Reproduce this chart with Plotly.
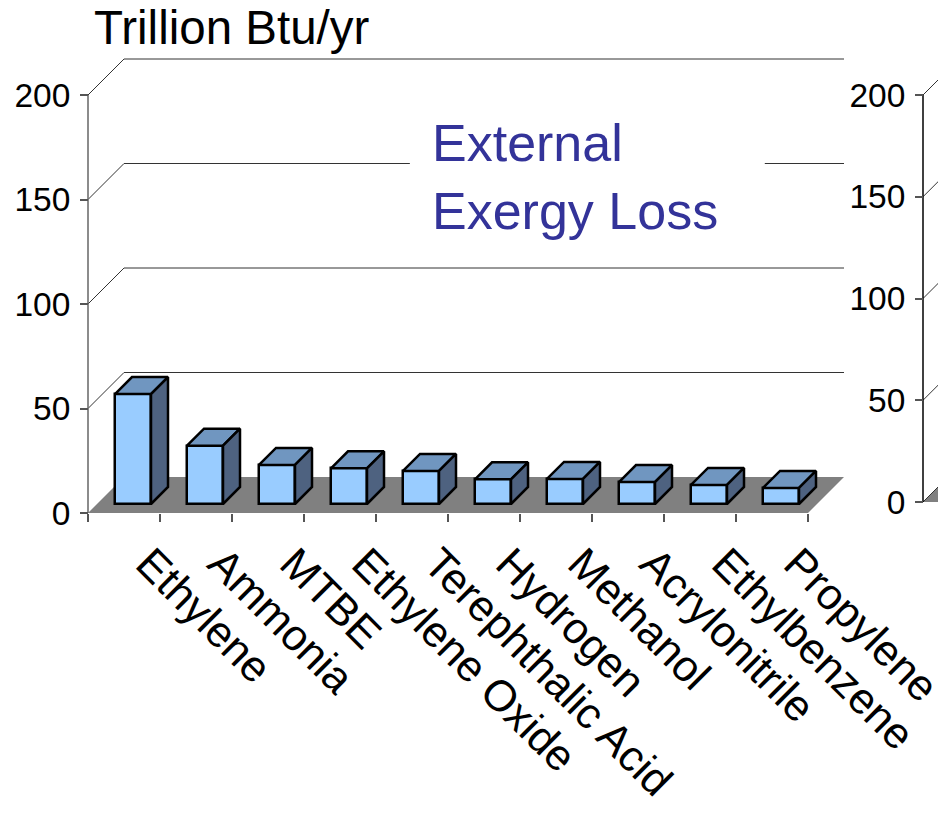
import plotly.graph_objects as go

# ---- data -------------------------------------------------------------
categories = ["Ethylene", "Ammonia", "MTBE", "Ethylene Oxide", "Terephthalic Acid",
              "Hydrogen", "Methanol", "Acrylonitrile", "Ethylbenzene", "Propylene"]
values = [52.6, 27.9, 18.7, 17.1, 15.8, 11.8, 12.0, 10.5, 9.1, 7.7]
y_ticks = [0, 50, 100, 150, 200]
title_text = "Trillion Btu/yr"
panel_text = "External<br>Exergy Loss"

# ---- geometry of the pseudo-3D frame -----------------------------------
W, H = 938, 813
PX_CAT = 72.0          # pixels per category
PX_VAL = 2.09          # pixels per value unit (main panel)
PX_VAL2 = 2.035        # pixels per value unit (neighbouring panel)
LEFT, RIGHT, BOTTOM, TOP = 88, 844, 513, 53

WALL_DX = 36 / PX_CAT          # floor / wall depth
WALL_DY = 36 / PX_VAL
BAR_W = 36 / PX_CAT
BAR_OX = 9 / PX_CAT            # bar set back from the front edge
BAR_OY = 9 / PX_VAL
BAR_DX = 17 / PX_CAT           # bar depth
BAR_DY = 17 / PX_VAL

FRONT = "#99CCFF"
TOPC = "#7096C0"
SIDE = "#4E6280"
FLOOR = "#808080"
FONT = "Arial, Liberation Sans, sans-serif"

n = len(categories)
x_lo = -0.5
x_hi = n - 0.5 + WALL_DX
pad = 4 / PX_CAT

fig = go.Figure()
shapes = []

# back-wall gridlines (diagonal on the side wall, horizontal on the back wall)
for v in y_ticks[1:]:
    shapes.append(dict(type="path", xref="x", yref="y", layer="below",
                       path=f"M{x_lo},{v} L{x_lo + WALL_DX},{v + WALL_DY} L{x_hi},{v + WALL_DY}",
                       line=dict(color="#333333", width=1)))
# floor
shapes.append(dict(type="path", xref="x", yref="y", layer="below",
                   path=f"M{x_lo},0 L{n - 0.5},0 L{x_hi},{WALL_DY} L{x_lo + WALL_DX},{WALL_DY} Z",
                   fillcolor=FLOOR, line=dict(width=0)))
# value axis line
shapes.append(dict(type="line", xref="x", yref="y", layer="below",
                   x0=x_lo, x1=x_lo, y0=y_ticks[0], y1=y_ticks[-1],
                   line=dict(color="#666666", width=1.5)))
# white backing behind the panel label
shapes.append(dict(type="rect", xref="x", yref="y", layer="above",
                   x0=3.97, x1=8.9, y0=140, y1=200,
                   fillcolor="white", line=dict(width=0)))

# front faces of the bars
xs = [i + BAR_OX for i in range(n)]
fig.add_trace(go.Bar(x=xs, y=values, base=BAR_OY, width=BAR_W,
                     marker=dict(color=FRONT, line=dict(color="black", width=2.5)),
                     hoverinfo="skip", showlegend=False))

# top and side faces
tx, ty, sx, sy = [], [], [], []
for xc, v in zip(xs, values):
    x0, x1 = xc - BAR_W / 2, xc + BAR_W / 2
    yb, yt = BAR_OY, BAR_OY + v
    tx += [x0, x1, x1 + BAR_DX, x0 + BAR_DX, x0, None]
    ty += [yt, yt, yt + BAR_DY, yt + BAR_DY, yt, None]
    sx += [x1, x1 + BAR_DX, x1 + BAR_DX, x1, x1, None]
    sy += [yb, yb + BAR_DY, yt + BAR_DY, yt, yb, None]
fig.add_trace(go.Scatter(x=tx, y=ty, mode="lines", fill="toself", fillcolor=TOPC,
                         line=dict(color="black", width=2.5), hoverinfo="skip", showlegend=False))
fig.add_trace(go.Scatter(x=sx, y=sy, mode="lines", fill="toself", fillcolor=SIDE,
                         line=dict(color="black", width=2.5), hoverinfo="skip", showlegend=False))

# ---- neighbouring panel, cut off at the right edge ---------------------
WALL_DY2 = 36 / PX_VAL2
rx, ry = [], []
for v in y_ticks:
    rx += [0, WALL_DX, None]
    ry += [v, v + WALL_DY2, None]
fig.add_trace(go.Scatter(x=[0, WALL_DX, 3, 3, 0], y=[0, WALL_DY2, WALL_DY2, 0, 0],
                         mode="lines", fill="toself", fillcolor=FLOOR,
                         line=dict(width=0, color=FLOOR), xaxis="x2", yaxis="y2",
                         hoverinfo="skip", showlegend=False))
fig.add_trace(go.Scatter(x=rx, y=ry, mode="lines", line=dict(color="#333333", width=1),
                         xaxis="x2", yaxis="y2", hoverinfo="skip", showlegend=False))
fig.add_trace(go.Scatter(x=[0, 0], y=[y_ticks[0] - 3, y_ticks[-1]], mode="lines",
                         line=dict(color="black", width=1.5), xaxis="x2", yaxis="y2",
                         hoverinfo="skip", showlegend=False))

tick_font = dict(family=FONT, size=33.5, color="black")
cat_font = dict(family=FONT, size=43.5, color="black")
r_left = 920
fig.update_layout(
    template="none",
    width=W, height=H,
    margin=dict(l=0, r=0, t=0, b=0, autoexpand=False),
    paper_bgcolor="white", plot_bgcolor="white",
    bargap=0, showlegend=False,
    xaxis=dict(domain=[(LEFT - 4) / W, RIGHT / W], range=[x_lo - pad, x_hi],
               automargin=False, ticklabeloverflow="allow",
               tickmode="array", tickvals=list(range(n)), ticktext=categories,
               ticks="", tickangle=45, tickfont=cat_font,
               ticklabelstandoff=15, ticklabelshift=25,
               showgrid=False, zeroline=False, showline=False,
               minor=dict(tickmode="array", tickvals=[i - 0.5 for i in range(n + 1)],
                          ticks="outside", ticklen=8, tickcolor="#555555", tickwidth=1.5,
                          showgrid=False),
               fixedrange=True),
    yaxis=dict(domain=[(H - BOTTOM) / H, (H - TOP) / H], range=[0, (BOTTOM - TOP) / PX_VAL],
               anchor="free", position=LEFT / W, automargin=False,
               tickmode="array", tickvals=y_ticks, ticks="outside", ticklen=8,
               tickcolor="#555555", tickwidth=1.5, ticklabelstandoff=3,
               tickfont=tick_font,
               showgrid=False, zeroline=False, showline=False, fixedrange=True),
    xaxis2=dict(domain=[r_left / W, 1], range=[-(923 - r_left) / PX_CAT, (W - 923) / PX_CAT],
                visible=False, anchor="y2", automargin=False, fixedrange=True),
    yaxis2=dict(domain=[(H - 502) / H, (H - TOP) / H], range=[0, (502 - TOP) / PX_VAL2],
                anchor="free", position=923 / W, automargin=False,
                tickmode="array", tickvals=y_ticks, ticks="outside", ticklen=8,
                tickcolor="#555555", tickwidth=1.5, ticklabelstandoff=3,
                tickfont=tick_font,
                showgrid=False, zeroline=False, showline=False, fixedrange=True),
    shapes=shapes,
    annotations=[
        dict(text=panel_text, xref="x", yref="y", x=4.25, y=192,
             xanchor="left", yanchor="top", align="left", showarrow=False,
             font=dict(family=FONT, size=52, color="#333399")),
        dict(text=title_text, xref="paper", yref="paper", x=92 / W, y=1 + 1 / H,
             xanchor="left", yanchor="top", showarrow=False,
             font=dict(family=FONT, size=47.5, color="black")),
    ],
)

fig.write_html("out.html")
